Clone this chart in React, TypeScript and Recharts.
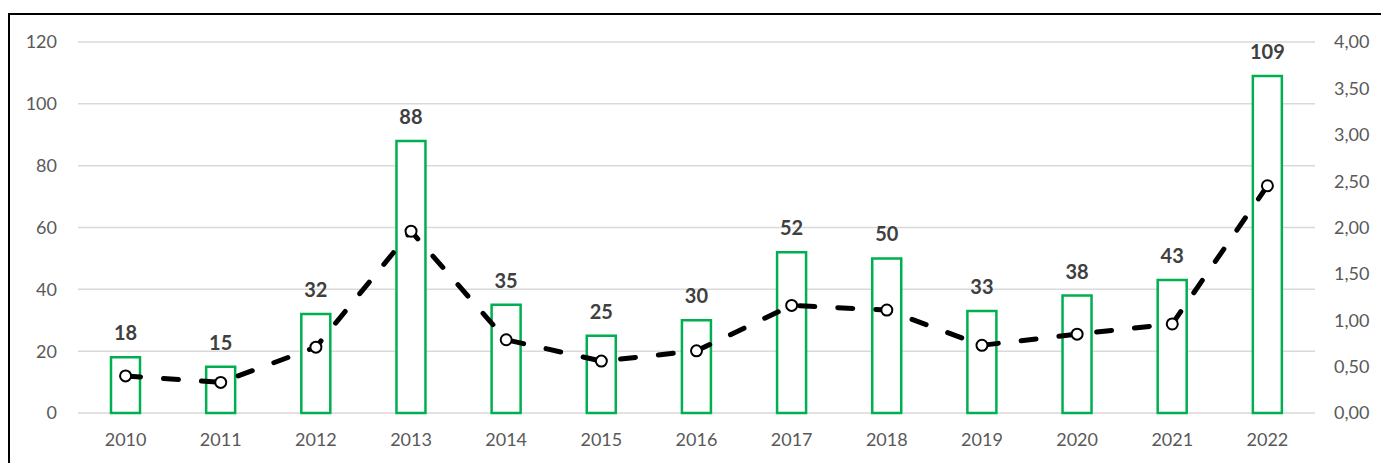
import React from 'react';
import { ComposedChart, Bar, Line, XAxis, YAxis, CartesianGrid, LabelList } from 'recharts';

const years = ['2010', '2011', '2012', '2013', '2014', '2015', '2016', '2017', '2018', '2019', '2020', '2021', '2022'];
const counts = [18, 15, 32, 88, 35, 25, 30, 52, 50, 33, 38, 43, 109];
const rates = [0.4, 0.33, 0.71, 1.96, 0.79, 0.56, 0.67, 1.16, 1.11, 0.73, 0.85, 0.96, 2.45];
const leftTicks = [0, 20, 40, 60, 80, 100, 120];
const rightTicks = [0, 0.5, 1, 1.5, 2, 2.5, 3, 3.5, 4];

const data = years.map((y, i) => ({ year: y, count: counts[i], rate: rates[i] }));

const FONT = 'Lato, "Open Sans", sans-serif';
const tickStyle = { fill: '#595959', fontSize: 18, fontFamily: FONT };

export default function App() {
  return (
    <div
      style={{
        position: 'absolute',
        left: 8,
        top: 13,
        width: 1371,
        height: 448,
        borderTop: '2px solid #000',
        borderLeft: '2px solid #000',
        background: '#fff',
      }}
    >
      <ComposedChart width={1371} height={448} data={data} margin={{ top: 27, right: 0, left: 0, bottom: 0 }}>
        <CartesianGrid vertical={false} stroke="#D9D9D9" strokeWidth={1.5} yAxisId="left" />
        <XAxis
          dataKey="year"
          height={50}
          axisLine={false}
          tickLine={false}
          tick={tickStyle}
          tickMargin={14}
        />
        <YAxis
          yAxisId="left"
          orientation="left"
          width={68}
          domain={[0, 120]}
          ticks={leftTicks}
          axisLine={false}
          tickLine={false}
          tick={tickStyle}
          tickMargin={15}
        />
        <YAxis
          yAxisId="right"
          orientation="right"
          width={66}
          domain={[0, 4]}
          ticks={rightTicks}
          axisLine={false}
          tickLine={false}
          tick={tickStyle}
          tickMargin={13}
          tickFormatter={(v: number) => v.toFixed(2).replace('.', ',')}
        />
        <Bar
          yAxisId="left"
          dataKey="count"
          barSize={29}
          fill="#FFFFFF"
          stroke="#00B050"
          strokeWidth={2.5}
          isAnimationActive={false}
        >
          <LabelList
            dataKey="count"
            position="top"
            offset={17}
            style={{ fill: '#404040', fontSize: 20, fontWeight: 700, fontFamily: FONT }}
          />
        </Bar>
        <Line
          yAxisId="right"
          dataKey="rate"
          type="linear"
          stroke="#000"
          strokeWidth={5}
          strokeLinecap="round"
          strokeDasharray="15 23"
          dot={{ r: 5.5, fill: '#FFFFFF', stroke: '#000', strokeWidth: 2, strokeDasharray: 'none' }}
          isAnimationActive={false}
        />
      </ComposedChart>
    </div>
  );
}
